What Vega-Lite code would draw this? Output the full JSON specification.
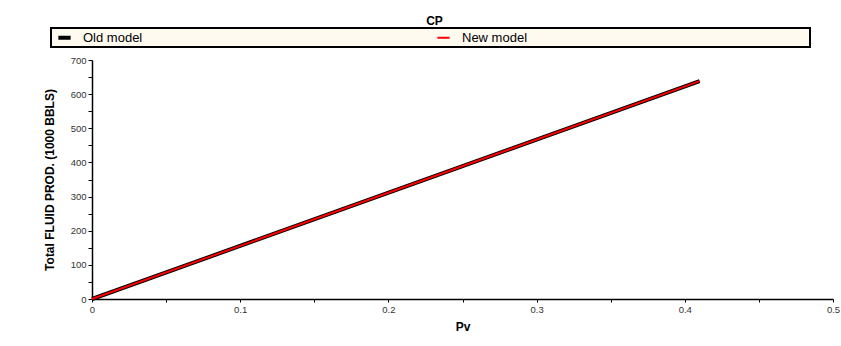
{
  "$schema": "https://vega.github.io/schema/vega-lite/v6.json",
  "autosize": {"type": "none"},
  "padding": {"left": 92, "top": 60, "right": 8, "bottom": 47},
  "width": 741,
  "height": 239,
  "background": "white",
  "config": {
    "font": "Liberation Sans",
    "view": {"stroke": null}
  },
  "title": {
    "text": "CP",
    "fontSize": 12,
    "fontWeight": "bold",
    "font": "Liberation Sans",
    "color": "black",
    "anchor": "middle",
    "frame": "group",
    "dx": -28,
    "offset": -1
  },
  "data": {
    "values": [
      {"series": "Old model", "pv": 0, "prod": 0},
      {"series": "Old model", "pv": 0.41, "prod": 638},
      {"series": "New model", "pv": 0, "prod": 0},
      {"series": "New model", "pv": 0.41, "prod": 638}
    ]
  },
  "encoding": {
    "x": {
      "field": "pv",
      "type": "quantitative",
      "title": "Pv",
      "scale": {"domain": [0, 0.5], "nice": false, "zero": true},
      "axis": {
        "values": [0, 0.05, 0.1, 0.15, 0.2, 0.25, 0.3, 0.35, 0.4, 0.45, 0.5],
        "labelExpr": "(round(datum.value * 100) % 10 === 0) ? format(datum.value, '~g') : ''",
        "tickSize": 3,
        "tickColor": "black",
        "domainColor": "black",
        "domainWidth": 1.5,
        "grid": false,
        "labelFontSize": 9.5,
        "labelColor": "#333333",
        "labelPadding": 2,
        "labelFlush": false,
        "titleFontSize": 12,
        "titleFontWeight": "bold",
        "titleColor": "black",
        "titlePadding": 8,
        "encode": {
          "ticks": {
            "update": {
              "y2": {"signal": "round(datum.value * 100) % 10 === 0 ? 0 : 3"}
            }
          }
        }
      }
    },
    "y": {
      "field": "prod",
      "type": "quantitative",
      "title": "Total FLUID PROD. (1000 BBLS)",
      "scale": {"domain": [0, 700], "nice": false},
      "axis": {
        "values": [0, 50, 100, 150, 200, 250, 300, 350, 400, 450, 500, 550, 600, 650, 700],
        "labelExpr": "datum.value % 100 === 0 ? datum.label : ''",
        "tickSize": 4,
        "tickColor": "black",
        "domainColor": "black",
        "domainWidth": 1.5,
        "grid": false,
        "labelFontSize": 9.5,
        "labelColor": "#333333",
        "labelPadding": 2,
        "labelFlush": false,
        "titleFontSize": 12,
        "titleFontWeight": "bold",
        "titleColor": "black",
        "titlePadding": 14,
        "encode": {
          "ticks": {
            "update": {
              "x2": {"signal": "datum.value % 100 === 0 ? -4 : -2"}
            }
          }
        }
      }
    },
    "color": {
      "field": "series",
      "type": "nominal",
      "scale": {"domain": ["Old model", "New model"], "range": ["black", "#ff0000"]},
      "legend": {
        "orient": "none",
        "legendX": -41,
        "legendY": -32,
        "direction": "horizontal",
        "columns": 2,
        "columnPadding": 288,
        "title": null,
        "fillColor": "#fffaf0",
        "strokeColor": "black",
        "padding": 1,
        "symbolType": "stroke",
        "symbolSize": 150,
        "symbolOffset": 4,
        "labelFontSize": 13,
        "labelColor": "black",
        "labelOffset": 10,
        "labelLimit": 1000,
        "labelExpr": "datum.value == 'New model' ? datum.label + '                                                                              \u200b' : datum.label",
        "encode": {"legend": {"update": {"strokeWidth": {"value": 2}}}}
      }
    },
    "strokeWidth": {
      "field": "series",
      "type": "nominal",
      "scale": {"domain": ["Old model", "New model"], "range": [4, 2]}
    }
  },
  "layer": [
    {"transform": [{"filter": "datum.series == 'Old model'"}], "mark": {"type": "line", "clip": false}},
    {"transform": [{"filter": "datum.series == 'New model'"}], "mark": {"type": "line", "clip": false}}
  ]
}
